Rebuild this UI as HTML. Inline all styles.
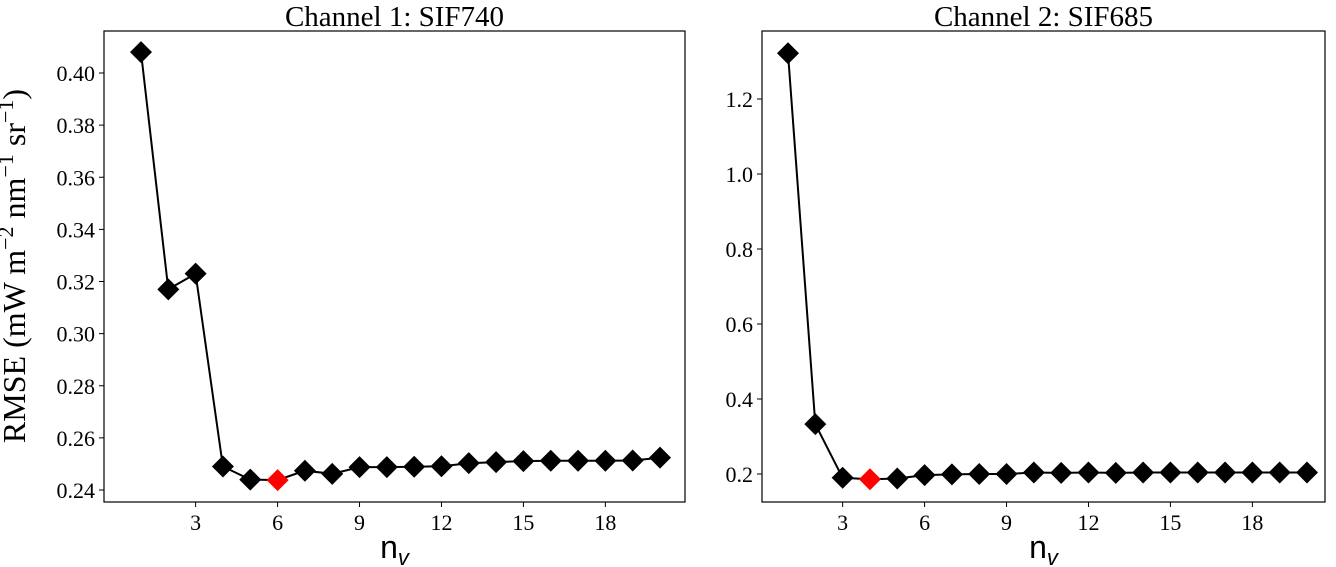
<!DOCTYPE html>
<html><head><meta charset="utf-8"><style>
html,body{margin:0;padding:0;background:#fff;}
svg{display:block;font-family:"Liberation Serif",serif;}
</style></head><body>
<svg id="chart" width="1336" height="567">
<text x="25" y="266" font-size="32" text-anchor="middle" transform="rotate(-90 25 266)">RMSE (mW m<tspan dy="-12" font-size="22">−2</tspan><tspan dy="12"> nm</tspan><tspan dy="-12" font-size="22">−1</tspan><tspan dy="12"> sr</tspan><tspan dy="-12" font-size="22">−1</tspan><tspan dy="12">)</tspan></text>
</svg>
<script>
const nv = [1,2,3,4,5,6,7,8,9,10,11,12,13,14,15,16,17,18,19,20];
const ch1Values = [0.408,0.317,0.323,0.249,0.244,0.2438,0.2474,0.2462,0.2488,0.2488,0.2489,0.2491,0.2503,0.2507,0.2511,0.2512,0.2512,0.2512,0.2513,0.2524];
const ch2Values = [1.322,0.333,0.190,0.186,0.188,0.197,0.199,0.200,0.200,0.204,0.203,0.204,0.203,0.204,0.204,0.204,0.204,0.204,0.204,0.204];
const ch1Best = 6;
const ch2Best = 4;
const xTicks = [3,6,9,12,15,18];
const ch1YTicks = [0.24,0.26,0.28,0.30,0.32,0.34,0.36,0.38,0.40];
const ch1YLabels = ["0.24","0.26","0.28","0.30","0.32","0.34","0.36","0.38","0.40"];
const ch2YTicks = [0.2,0.4,0.6,0.8,1.0,1.2];
const ch2YLabels = ["0.2","0.4","0.6","0.8","1.0","1.2"];
const NS="http://www.w3.org/2000/svg";
const svg=document.getElementById('chart');
function mk(tag,attrs,parent){const e=document.createElementNS(NS,tag);for(const k in attrs)e.setAttribute(k,attrs[k]);(parent||svg).appendChild(e);return e;}
function panel(o){
  const g=mk('g',{});
  
  
  const xs=v=>o.x1px+(v-1)*(o.x20px-o.x1px)/19;
  const ys=v=>o.y0px+(v-o.y0)*(o.y1px-o.y0px)/(o.y1-o.y0);
  const t=mk('text',{x:(o.L+o.R)/2,y:26,'font-size':29,'text-anchor':'middle'},g);t.textContent=o.title;
  
  
  xTicks.forEach(v=>{const x=xs(v);mk('line',{x1:x,x2:x,y1:o.B,y2:o.B+5,stroke:'#000','stroke-width':1},g);
    const l=mk('text',{x:x,y:o.B+28,'font-size':22,'text-anchor':'middle'},g);l.textContent=v;
    
    });
  o.yt.forEach((v,i)=>{const y=ys(v);mk('line',{x1:o.L-5,x2:o.L,y1:y,y2:y,stroke:'#000','stroke-width':1},g);
    const l=mk('text',{x:o.L-9,y:y+8,'font-size':22,'text-anchor':'end'},g);l.textContent=o.yl[i];
    
    });
  const pts=nv.map((n,i)=>xs(n).toFixed(1)+','+ys(o.vals[i]).toFixed(1)).join(' ');
  const pl=mk('polyline',{points:pts,fill:'none',stroke:'#000','stroke-width':2},g);
  
  
  nv.forEach((n,i)=>{const x=xs(n),y=ys(o.vals[i]),r=11;
    const p=mk('polygon',{points:`${x},${y-r} ${x+r},${y} ${x},${y+r} ${x-r},${y}`,fill:n===o.best?'#f00':'#000'},g);
    
    });
  const b=mk('rect',{x:o.L,y:o.T,width:o.R-o.L,height:o.B-o.T,fill:'none',stroke:'#000','stroke-width':1.2},g);
  
  
  const xl=mk('text',{x:(o.L+o.R)/2,y:558,'font-size':32,'text-anchor':'middle','font-family':'Liberation Sans, sans-serif'},g);
  xl.innerHTML='n<tspan dy="7" font-size="22" font-style="italic">v</tspan>';
  
  
}
panel({name:'channel1-panel',title:'Channel 1: SIF740',L:104,R:685,T:31,B:502,x1px:141,x20px:660,y0:0.24,y0px:490,y1:0.40,y1px:73,vals:ch1Values,best:ch1Best,yt:ch1YTicks,yl:ch1YLabels});
panel({name:'channel2-panel',title:'Channel 2: SIF685',L:762,R:1325,T:31,B:502,x1px:788,x20px:1307,y0:0.2,y0px:474,y1:1.2,y1px:99,vals:ch2Values,best:ch2Best,yt:ch2YTicks,yl:ch2YLabels});
</script>
</body></html>
